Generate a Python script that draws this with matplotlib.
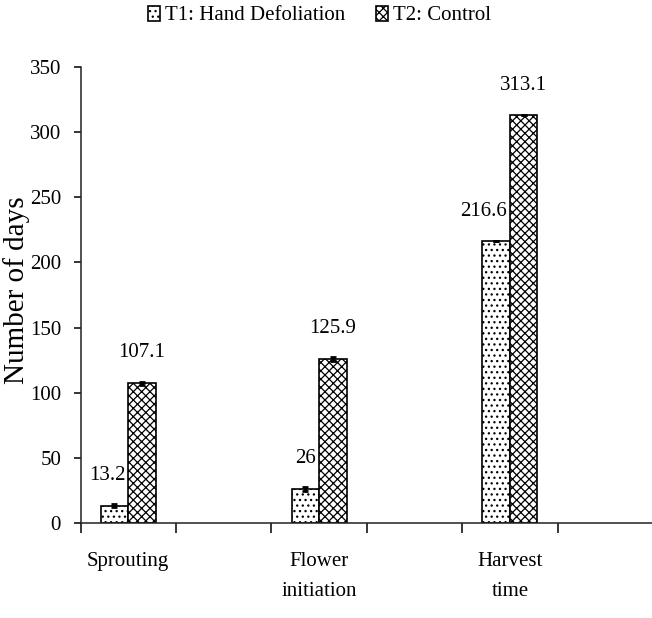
#!/usr/bin/env python3
"""Days to sprouting, flower initiation and harvest under two treatments."""

import matplotlib

matplotlib.use("Agg")
import matplotlib.pyplot as plt
import numpy as np

stages = ["Sprouting", "Flower\ninitiation", "Harvest\ntime"]
series_names = ["T1: Hand Defoliation", "T2: Control"]
t1_days = [13.2, 26.0, 216.6]
t2_days = [107.1, 125.9, 313.1]
t1_err = [1.2, 1.5, 0.0]
t2_err = [1.5, 1.2, 0.0]
y_ticks = [0, 50, 100, 150, 200, 250, 300, 350]

plt.rcParams["font.family"] = ["Liberation Serif", "DejaVu Serif"]
plt.rcParams["hatch.linewidth"] = 0.9

fig = plt.figure(figsize=(6.52, 6.18), dpi=100, facecolor="white")
ax = fig.add_axes([0.1235, 0.1537, 0.8780, 0.7379])

# the source chart has six category slots, every second one empty
slot = np.arange(len(stages)) * 2
width = 0.288
err_style = dict(ecolor="black", elinewidth=2.0, capsize=2.5, capthick=2.0)
bars1 = ax.bar(slot - width / 2, t1_days, width, color="white", edgecolor="black",
               linewidth=1.2, hatch="...", label=series_names[0],
               yerr=t1_err, error_kw=err_style)
bars2 = ax.bar(slot + width / 2, t2_days, width, color="white", edgecolor="black",
               linewidth=1.2, hatch="xxxx", label=series_names[1],
               yerr=t2_err, error_kw=err_style)

# T1 labels sit flush against the neighbouring control bar, T2 labels centred
for rect, value, err in zip(bars1, t1_days, t1_err):
    ax.annotate(f"{value:g}", (rect.get_x() + rect.get_width(), value + err),
                xytext=(-2, 21), textcoords="offset points", ha="right",
                va="center", fontsize=15)
for rect, value, err in zip(bars2, t2_days, t2_err):
    ax.annotate(f"{value:g}", (rect.get_x() + rect.get_width() / 2, value + err),
                xytext=(0, 21), textcoords="offset points", ha="center",
                va="center", fontsize=15)

ax.set_xlim(-0.5, 5.5)
ax.set_ylim(0, 350)
ax.set_yticks(y_ticks)
ax.tick_params(axis="y", direction="out", length=5, width=1.1, pad=9, labelsize=15)
ax.set_xticks(np.arange(-0.5, 6.0, 1.0))
ax.set_xticklabels([])
ax.tick_params(axis="x", which="major", direction="out", length=7, width=1.1)
ax.set_xticks(slot, minor=True)
ax.set_xticklabels(stages, minor=True, fontsize=15, linespacing=1.75)
ax.tick_params(axis="x", which="minor", length=0, pad=21)

for side in ("top", "right"):
    ax.spines[side].set_visible(False)
for side in ("left", "bottom"):
    ax.spines[side].set_linewidth(1.1)
    ax.spines[side].set_color("#222222")

ax.set_ylabel("Number of days", fontsize=21)
ax.yaxis.set_label_coords(-0.088, 0.51)

fig.legend(loc="center", bbox_to_anchor=(0.49, 0.975), ncol=2, frameon=False,
           fontsize=15, handlelength=0.55, handleheight=0.75, handletextpad=0.25,
           columnspacing=1.5)

fig.savefig("out.png", dpi=100)
